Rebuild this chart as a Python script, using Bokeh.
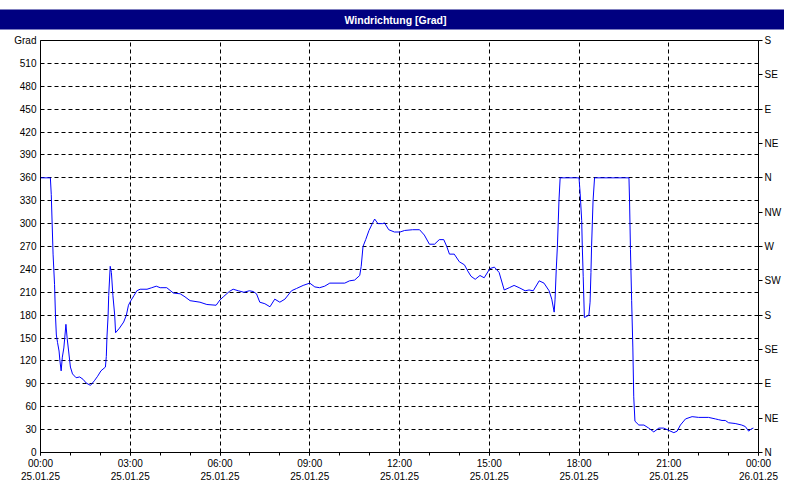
from bokeh.plotting import figure
from bokeh.models import FixedTicker, LinearAxis, Range1d
from bokeh.embed import file_html
from bokeh.resources import INLINE

# ---------------- data ----------------
hours = [0.00, 0.33, 0.36, 0.42, 0.47, 0.50, 0.53, 0.57, 0.62, 0.65, 0.69, 0.73, 0.78, 0.81, 0.85, 0.89,
         0.94, 1.00, 1.07, 1.19, 1.31, 1.42, 1.53, 1.67, 1.80, 1.91, 2.02, 2.17, 2.20, 2.22, 2.26, 2.28,
         2.33, 2.37, 2.42, 2.48, 2.51, 2.64, 2.78, 2.87, 2.94, 3.02, 3.13, 3.22, 3.33, 3.56, 3.72, 3.87,
         4.00, 4.22, 4.44, 4.67, 4.83, 5.00, 5.33, 5.56, 5.87, 6.00, 6.11, 6.31, 6.44, 6.61, 6.80, 6.98,
         7.11, 7.22, 7.33, 7.50, 7.67, 7.83, 8.00, 8.17, 8.39, 8.56, 8.78, 9.00, 9.17, 9.33, 9.50, 9.67,
         10.17, 10.33, 10.50, 10.67, 10.72, 10.78, 10.87, 10.98, 11.09, 11.17, 11.28, 11.44, 11.50, 11.64,
         11.83, 12.02, 12.17, 12.44, 12.67, 12.83, 13.00, 13.17, 13.33, 13.48, 13.58, 13.67, 13.83, 14.00,
         14.17, 14.28, 14.39, 14.53, 14.69, 14.83, 15.02, 15.17, 15.33, 15.50, 15.67, 15.83, 16.00, 16.20,
         16.33, 16.47, 16.67, 16.83, 17.00, 17.09, 17.17, 17.20, 17.24, 17.28, 17.31, 17.33, 17.37, 18.00,
         18.04, 18.09, 18.11, 18.14, 18.18, 18.24, 18.33, 18.37, 18.40, 18.42, 18.47, 18.52, 19.67, 19.69,
         19.72, 19.76, 19.80, 19.83, 19.87, 20.00, 20.17, 20.33, 20.50, 20.67, 20.83, 21.00, 21.17, 21.28,
         21.39, 21.56, 21.78, 22.00, 22.33, 22.56, 22.67, 22.78, 22.89, 23.00, 23.22, 23.44, 23.56, 23.67,
         23.76, 23.83]
deg = [360, 360, 338, 260, 220, 180, 154, 144, 133, 120, 107, 125, 137, 150, 168, 150,
       133, 112, 103, 98, 99, 96, 91, 88, 94, 100, 107, 112, 126, 150, 180, 206,
       244, 236, 206, 180, 157, 163, 171, 180, 193, 199, 206, 212, 214, 214, 216, 218,
       216, 216, 209, 208, 204, 199, 197, 194, 193, 200, 204, 211, 214, 212, 210, 212,
       211, 208, 197, 195, 191, 201, 197, 201, 212, 215, 219, 222, 217, 216, 218, 222,
       222, 225, 226, 232, 244, 270, 279, 291, 300, 306, 300, 300, 301, 292,
       289, 289, 291, 292, 292, 285, 273, 273, 279, 279, 270, 260, 260, 250,
       246, 238, 231, 227, 232, 229, 241, 243, 236, 213, 216, 219, 216, 212,
       213, 212, 225, 222, 212, 201, 184, 201, 240, 272, 306, 330, 360, 360,
       339, 304, 270, 231, 177, 178, 180, 197, 236, 270, 330, 360, 360, 330,
       266, 199, 137, 73, 41, 36, 36, 32, 27, 32, 32, 29, 26, 28,
       36, 44, 47, 46, 46, 44, 43, 42, 42, 39, 38, 36, 34, 28,
       31, 32]

x_ticks = [0, 3, 6, 9, 12, 15, 18, 21, 24]
x_time_labels = ["00:00", "03:00", "06:00", "09:00", "12:00", "15:00", "18:00", "21:00", "00:00"]
x_date_labels = ["25.01.25", "25.01.25", "25.01.25", "25.01.25", "25.01.25",
                 "25.01.25", "25.01.25", "25.01.25", "26.01.25"]
y_ticks = [0, 30, 60, 90, 120, 150, 180, 210, 240, 270, 300, 330, 360, 390, 420, 450, 480, 510]
dir_ticks = [0, 45, 90, 135, 180, 225, 270, 315, 360, 405, 450, 495, 540]
dir_labels = ["N", "NE", "E", "SE", "S", "SW", "W", "NW", "N", "NE", "E", "SE", "S"]
title_text = "Windrichtung [Grad]"
unit_text = "Grad"

FONT = "Liberation Sans"
NAVY = "#000080"

p = figure(width=784, height=484, x_range=Range1d(0, 24), y_range=Range1d(0, 540),
           output_backend="svg", toolbar_location=None,
           min_border_left=40, min_border_right=24, min_border_top=40, min_border_bottom=28)
p.background_fill_color = "white"
p.border_fill_color = "white"
p.outline_line_color = "black"
p.outline_line_width = 1

# title bar: the title's own background, padded out to the full width
p.title.text = title_text
p.title.align = "center"
p.title.vertical_align = "top"
p.title.text_color = "white"
p.title.text_font = FONT
p.title.text_font_size = "10.5px"
p.title.text_font_style = "bold"
p.title.background_fill_color = NAVY
p.title.padding = dict(left=352, right=360, top=4, bottom=4)
p.title.standoff = 18

p.line(hours, deg, line_color="#0000FF", line_width=1)

# bottom axis
xa = p.xaxis[0]
xa.ticker = FixedTicker(ticks=x_ticks, minor_ticks=list(range(0, 25)))
xa.major_label_overrides = {t: f"{a}\n{b}" for t, a, b in zip(x_ticks, x_time_labels, x_date_labels)}
xa.major_tick_out = 3
xa.major_tick_in = 0
xa.minor_tick_out = 3
xa.minor_tick_in = 0
xa.major_label_standoff = 2

# left axis (top tick carries the unit label)
ya = p.yaxis[0]
ya.ticker = FixedTicker(ticks=y_ticks + [540])
ya.major_label_overrides = {540: unit_text}
ya.major_tick_out = 0
ya.major_tick_in = 0
ya.minor_tick_out = 0
ya.minor_tick_in = 0
ya.major_label_standoff = 4

# right axis
ra = LinearAxis(ticker=FixedTicker(ticks=dir_ticks),
                major_label_overrides={t: l for t, l in zip(dir_ticks, dir_labels)})
ra.major_tick_out = 4
ra.major_tick_in = 0
ra.minor_tick_out = 0
ra.minor_tick_in = 0
ra.major_label_standoff = 2
p.add_layout(ra, "right")

for ax in (xa, ya, ra):
    ax.axis_line_color = "black"
    ax.major_tick_line_color = "black"
    ax.minor_tick_line_color = "black"
    ax.major_label_text_font = FONT
    ax.major_label_text_font_size = "10px"
    ax.major_label_text_color = "black"

p.xgrid.ticker = FixedTicker(ticks=x_ticks)
p.ygrid.ticker = FixedTicker(ticks=y_ticks)
for g in (p.xgrid[0], p.ygrid[0]):
    g.grid_line_color = "black"
    g.grid_line_dash = "4 3"
    g.grid_line_width = 1

open("out.html", "w").write(file_html(p, INLINE))
